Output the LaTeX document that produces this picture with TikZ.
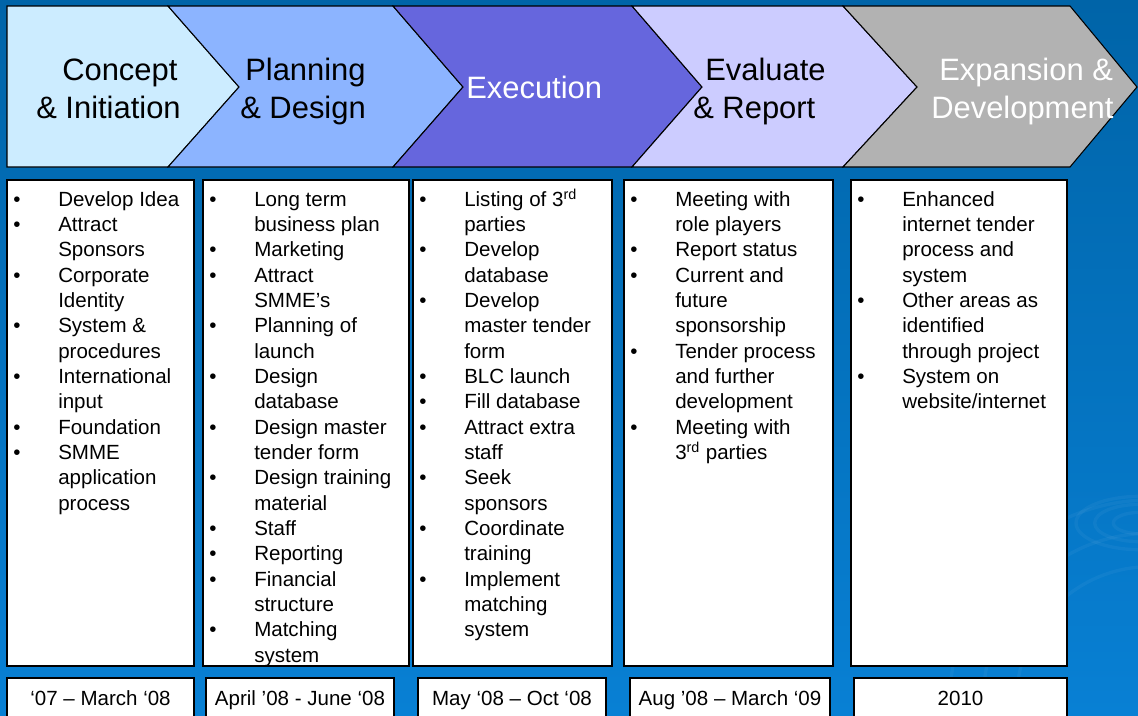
\documentclass[tikz,border=0pt]{standalone}
\usepackage{fontspec}
\setmainfont{Liberation Sans}
\usepackage{tikz}

\definecolor{bgtop}{RGB}{0,100,168}
\definecolor{bgbot}{RGB}{8,128,212}
\definecolor{phaseA}{RGB}{204,236,255}
\definecolor{phaseB}{RGB}{140,180,255}
\definecolor{phaseC}{RGB}{102,102,221}
\definecolor{phaseD}{RGB}{204,204,255}
\definecolor{phaseE}{RGB}{178,178,178}

\tikzset{
  phase/.style={draw=black, line width=0.8pt},
  listbox/.style={draw=black, fill=white, line width=0.9pt},
  head/.style={anchor=base west, inner sep=0pt, font=\fontsize{23.2}{28.5}\selectfont},
  items/.style={anchor=base west, inner sep=0pt, font=\fontsize{15.4}{19}\selectfont},
  datetext/.style={anchor=base, inner sep=0pt, font=\fontsize{15.4}{19}\selectfont},
  ripple/.style={draw=white, opacity=0.045, line width=2.5pt},
}
\newcommand{\bu}{\textbullet}

\begin{document}
\begin{tikzpicture}[x=0.75pt,y=0.75pt,yscale=-1,xscale=1]
\useasboundingbox (0,0) rectangle (1138,715);
\clip (0,0) rectangle (1138,715);

%Background
\fill [top color=bgtop, bottom color=bgbot] (0,0) rectangle (1138,715);
%Ripples
\draw [ripple] (1140,523) ellipse [x radius=20pt, y radius=8pt];
\draw [ripple] (1140,523) ellipse [x radius=34pt, y radius=14pt];
\draw [ripple] (1140,523) ellipse [x radius=48pt, y radius=20pt];
\draw [ripple] (1150,700) circle [radius=100pt];
\draw [ripple] (1150,700) circle [radius=125pt];
\draw [ripple] (1150,700) circle [radius=150pt];

%Shape: Chevron [id:phase1]
\draw [phase, fill=phaseA] (7,6) -- (168,6) -- (239,87) -- (168,167) -- (7,167) -- cycle ;
%Shape: Chevron [id:phase2]
\draw [phase, fill=phaseB] (168,6) -- (393,6) -- (463,87) -- (393,167) -- (168,167) -- (239,87) -- cycle ;
%Shape: Chevron [id:phase3]
\draw [phase, fill=phaseC] (393,6) -- (632,6) -- (702,87) -- (632,167) -- (393,167) -- (463,87) -- cycle ;
%Shape: Chevron [id:phase4]
\draw [phase, fill=phaseD] (632,6) -- (843,6) -- (917,87) -- (843,167) -- (632,167) -- (702,87) -- cycle ;
%Shape: Chevron [id:phase5]
\draw [phase, fill=phaseE] (843,6) -- (1070,6) -- (1137,87) -- (1070,167) -- (843,167) -- (917,87) -- cycle ;

% Text Node
\node (concept) [head] at (62,80) {Concept};
\node (initiation) [head] at (36,118) {\& Initiation};
\node (planning) [head] at (245,80) {Planning};
\node (design) [head] at (240,118) {\& Design};
\node (execution) [head, text=white] at (466,98) {Execution};
\node (evaluate) [head] at (705,80) {Evaluate};
\node (report) [head] at (693,118) {\& Report};
\node (expansion) [head, text=white] at (939,80) {Expansion \&};
\node (development) [head, text=white] at (931,118) {Development};

%Shape: Rectangle [id:list1..list5]
\draw [listbox] (7,180) rectangle (194,666) ;
\draw [listbox] (203,180) rectangle (409,666) ;
\draw [listbox] (413,180) rectangle (612,666) ;
\draw [listbox] (624,180) rectangle (833,666) ;
\draw [listbox] (851,180) rectangle (1067,666) ;

% Text Node
\node (items1) [items] at (13,206) {\begin{tabular}[t]{@{}p{33.75pt}@{}l@{}}
\bu & Develop Idea\\ \bu & Attract\\ & Sponsors\\ \bu & Corporate\\ & Identity\\
\bu & System \&\\ & procedures\\ \bu & International\\ & input\\ \bu & Foundation\\
\bu & SMME\\ & application\\ & process
\end{tabular}};
\node (items2) [items] at (209,206) {\begin{tabular}[t]{@{}p{33.75pt}@{}l@{}}
\bu & Long term\\ & business plan\\ \bu & Marketing\\ \bu & Attract\\ & SMME’s\\
\bu & Planning of\\ & launch\\ \bu & Design\\ & database\\ \bu & Design master\\
& tender form\\ \bu & Design training\\ & material\\ \bu & Staff\\ \bu & Reporting\\
\bu & Financial\\ & structure\\ \bu & Matching\\ & system
\end{tabular}};
\node (items3) [items] at (419,206) {\begin{tabular}[t]{@{}p{33.75pt}@{}l@{}}
\bu & Listing of 3\textsuperscript{rd}\\ & parties\\ \bu & Develop\\ & database\\
\bu & Develop\\ & master tender\\ & form\\ \bu & BLC launch\\ \bu & Fill database\\
\bu & Attract extra\\ & staff\\ \bu & Seek\\ & sponsors\\ \bu & Coordinate\\
& training\\ \bu & Implement\\ & matching\\ & system
\end{tabular}};
\node (items4) [items] at (630,206) {\begin{tabular}[t]{@{}p{33.75pt}@{}l@{}}
\bu & Meeting with\\ & role players\\ \bu & Report status\\ \bu & Current and\\
& future\\ & sponsorship\\ \bu & Tender process\\ & and further\\ & development\\
\bu & Meeting with\\ & 3\textsuperscript{rd} parties
\end{tabular}};
\node (items5) [items] at (857,206) {\begin{tabular}[t]{@{}p{33.75pt}@{}l@{}}
\bu & Enhanced\\ & internet tender\\ & process and\\ & system\\ \bu & Other areas as\\
& identified\\ & through project\\ \bu & System on\\ & website/internet
\end{tabular}};

%Shape: Rectangle [id:date1..date5]
\draw [listbox] (7,678) rectangle (194,730) ;
\draw [listbox] (206,678) rectangle (394,730) ;
\draw [listbox] (418,678) rectangle (606,730) ;
\draw [listbox] (630,678) rectangle (830,730) ;
\draw [listbox] (854,678) rectangle (1067,730) ;

% Text Node
\node (date1) [datetext] at (100.5,705) {‘07 – March ‘08};
\node (date2) [datetext] at (300,705) {April ’08 - June ‘08};
\node (date3) [datetext] at (512,705) {May ‘08 – Oct ‘08};
\node (date4) [datetext] at (730,705) {Aug ’08 – March ‘09};
\node (date5) [datetext] at (960.5,705) {2010};

\end{tikzpicture}
\end{document}
